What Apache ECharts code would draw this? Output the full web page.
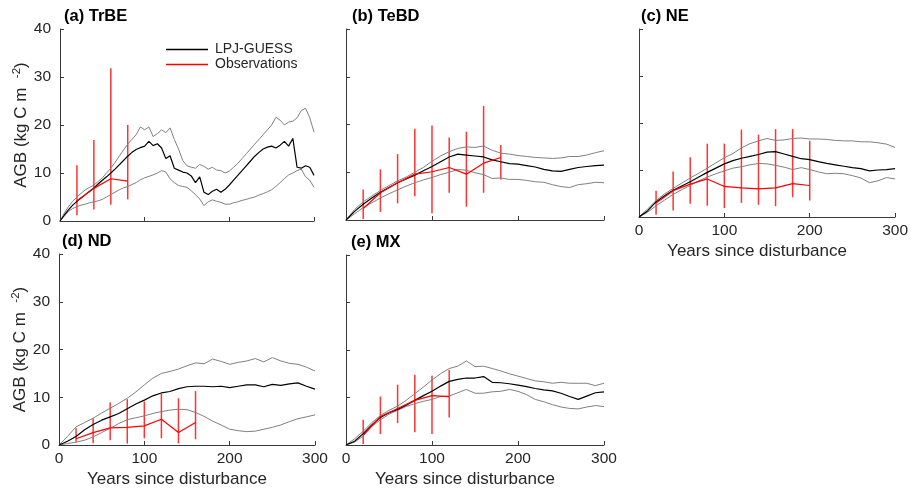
<!DOCTYPE html>
<html>
<head>
<meta charset="utf-8">
<script src="https://cdn.jsdelivr.net/npm/echarts@6/dist/echarts.min.js"></script>
<style>
  html, body { margin: 0; padding: 0; background: #fff; }
  #main { width: 911px; height: 490px; }
</style>
</head>
<body>
<div id="main"></div>
<script>
// x values
var years5 = [0,5,10,15,20,25,30,35,40,45,50,55,60,65,70,75,80,85,90,95,100,105,110,115,120,125,130,135,140,145,150,
  155,160,165,170,175,180,185,190,195,200,205,210,215,220,225,230,235,240,245,250,255,260,265,270,275,280,285,290,295,300];
var years10 = [0,10,20,30,40,50,60,70,80,90,100,110,120,130,140,150,160,170,180,190,200,210,220,230,240,250,260,270,280,290,300];

// (a) TrBE
var aMean = [0,1.2,2.3,3.3,4.1,4.8,5.5,6.2,6.9,7.7,8.5,9.2,10.0,10.8,11.7,12.6,13.5,14.3,14.9,15.3,15.6,16.6,15.7,16.1,15.2,13.0,13.6,11.0,10.6,10.2,10.0,
  9.4,8.0,9.2,6.0,5.5,6.2,6.6,6.0,6.6,7.5,8.5,9.5,10.5,11.5,12.5,13.5,14.3,15.0,15.4,15.6,15.2,15.8,16.6,15.6,17.2,11.2,11.0,11.5,11.2,9.5];
var aHigh = [0,1.6,3.0,4.1,5.0,5.8,6.5,7.0,7.5,8.2,9.0,10.0,11.0,12.2,13.5,14.8,16.0,17.0,18.0,19.6,19.0,19.6,17.6,18.2,19.0,18.4,19.4,17.0,15.0,12.6,11.5,
  11.2,11.0,11.8,11.4,10.8,11.2,10.6,10.5,10.0,10.4,11.2,12.0,13.0,14.0,15.0,16.0,17.0,18.0,19.0,20.0,21.6,21.0,20.0,20.6,20.8,21.5,23.0,23.5,21.5,18.5];
var aLow = [0,1.0,2.0,2.6,3.0,3.3,3.5,3.8,4.0,4.2,4.5,5.0,5.5,6.0,6.5,6.9,7.2,7.6,8.0,8.6,9.0,9.3,9.6,10.0,10.5,10.2,8.8,8.0,7.4,7.2,7.0,
  6.3,5.5,4.6,3.2,4.0,4.4,4.1,3.9,3.5,3.5,3.8,4.0,4.3,4.5,4.8,5.0,5.4,5.7,6.1,6.5,7.2,8.0,8.8,9.6,10.0,10.5,10.8,9.2,8.5,7.0];
var aObsX = [20,40,60,80];
var aObs = [4.2,6.8,8.8,8.3];
var aObsLo = [1.2,2.4,3.4,4.5];
var aObsHi = [11.6,16.9,31.8,20.0];

// (b) TeBD
var bMean = [0,1.8,3.3,4.6,5.8,6.8,7.8,8.6,9.4,10.3,11.2,12.2,13.2,13.8,13.6,13.4,13.2,12.6,12.2,11.8,11.7,11.4,11.1,10.6,10.3,10.2,10.6,11.0,11.2,11.4,11.5];
var bHigh = [0,2.2,3.8,5.0,6.2,7.2,8.2,9.0,10.0,11.0,12.3,13.4,14.3,15.0,15.3,15.2,15.5,14.6,14.0,13.8,13.5,13.3,13.1,13.0,12.9,13.0,13.3,13.3,13.6,14.1,14.5];
var bLow = [0,1.3,2.6,3.6,4.6,5.5,6.3,7.1,7.8,8.4,8.9,9.5,10.0,10.6,10.4,9.9,9.5,8.7,8.8,8.5,8.5,8.3,8.0,7.9,7.4,7.0,6.8,7.4,7.6,7.9,7.8];
var bObsX = [20,40,60,80,100,120,140,160,180];
var bObs = [2.4,5.7,7.8,9.6,10.1,11.0,9.6,11.9,13.1];
var bObsLo = [0.2,1.7,3.5,5.0,1.4,5.7,2.8,5.7,8.5];
var bObsHi = [6.4,10.6,13.8,19.1,19.8,17.3,18.5,23.9,15.7];

// (c) NE
var cMean = [0,1.3,3.2,4.5,5.7,6.6,7.5,8.5,9.5,10.4,11.3,12.0,12.5,12.9,13.3,13.8,13.9,13.4,12.9,12.4,12.2,11.8,11.4,11.1,10.8,10.5,10.3,9.8,10.0,10.1,10.3];
var cHigh = [0,1.7,3.5,4.9,6.1,7.2,8.3,9.3,10.4,11.5,12.6,13.5,14.7,15.6,16.2,16.7,16.3,16.4,16.7,16.8,16.6,16.6,16.5,16.3,16.2,16.2,16.0,16.0,15.8,15.5,14.8];
var cLow = [0,1.0,2.4,3.6,4.8,5.8,6.7,7.7,8.5,9.2,9.8,10.4,10.7,11.1,11.4,11.3,11.0,10.6,10.1,10.5,10.1,9.6,9.2,9.3,9.2,8.8,8.3,7.3,7.7,8.4,8.1];
var cObsX = [20,40,60,80,100,120,140,160,180,200];
var cObs = [3.0,5.6,7.0,8.1,6.5,6.2,6.0,6.2,7.1,6.7];
var cObsLo = [0.5,1.4,2.8,2.4,1.9,3.0,2.6,2.3,4.2,3.5];
var cObsHi = [5.6,9.7,12.7,15.6,15.6,18.6,17.5,18.7,18.7,16.2];

// (d) ND
var dMean = [0,0.8,1.8,3.2,4.3,5.2,5.9,6.6,7.6,8.6,9.4,10.3,10.9,11.2,11.8,12.2,12.3,12.3,12.2,12.3,12.0,12.3,12.6,12.6,12.2,12.7,12.5,12.8,13.0,12.3,11.7];
var dHigh = [0,1.8,3.8,4.7,5.6,6.7,7.7,8.7,9.8,11.1,12.6,14.0,15.0,15.4,15.9,16.6,17.2,17.0,18.0,17.5,16.9,17.3,17.6,18.1,17.4,18.3,17.6,17.1,16.9,16.3,15.5];
var dLow = [0,0.3,0.6,1.0,1.7,2.6,3.5,4.5,5.3,5.7,6.1,6.6,7.0,7.3,7.5,7.4,6.8,6.0,5.0,4.2,3.3,3.0,2.8,2.9,3.3,3.7,4.2,4.9,5.5,5.9,6.3];
var dObsX = [20,40,60,80,100,120,140,160];
var dObs = [1.3,2.6,3.6,3.7,4.0,5.4,2.6,4.7];
var dObsLo = [0.7,0.35,1.0,0.3,1.4,1.4,0.35,1.2];
var dObsHi = [3.5,5.6,8.9,9.6,9.1,10.7,9.8,11.3];

// (e) MX
var eMean = [0,0.8,2.4,4.2,5.8,6.8,7.5,8.4,9.4,10.4,11.3,12.4,13.4,13.8,14.1,14.1,14.4,13.2,13.1,12.9,12.6,12.3,11.9,11.6,11.4,10.9,10.2,9.6,10.3,11.0,11.2];
var eHigh = [0,1.3,2.9,4.7,6.2,7.3,8.2,9.4,10.8,12.2,13.7,15.0,16.1,16.6,17.7,16.5,16.6,16.1,15.6,15.0,14.5,14.0,13.5,13.3,13.0,13.2,13.0,13.0,13.0,12.5,13.0];
var eLow = [0,0.6,1.9,3.9,5.3,6.5,7.3,8.1,8.7,9.2,9.6,10.2,10.3,11.0,11.7,10.9,10.9,11.2,11.3,11.7,11.3,10.6,9.6,9.1,8.5,8.0,7.7,7.6,8.0,8.3,8.1];
var eObsX = [20,40,60,80,100,120];
var eObs = [2.1,6.0,7.7,9.4,10.4,10.2];
var eObsLo = [0.2,2.3,4.6,2.7,2.3,5.8];
var eObsHi = [5.3,10.2,12.7,14.8,14.6,15.8];

var titles = ['(a) TrBE', '(b) TeBD', '(c) NE', '(d) ND', '(e) MX'];
var panels = [
  {x: years5, mean: aMean, high: aHigh, low: aLow, ox: aObsX, o: aObs, lo: aObsLo, hi: aObsHi},
  {x: years10, mean: bMean, high: bHigh, low: bLow, ox: bObsX, o: bObs, lo: bObsLo, hi: bObsHi},
  {x: years10, mean: cMean, high: cHigh, low: cLow, ox: cObsX, o: cObs, lo: cObsLo, hi: cObsHi},
  {x: years10, mean: dMean, high: dHigh, low: dLow, ox: dObsX, o: dObs, lo: dObsLo, hi: dObsHi},
  {x: years10, mean: eMean, high: eHigh, low: eLow, ox: eObsX, o: eObs, lo: eObsLo, hi: eObsHi}
];

// layout of the five axes boxes
var boxes = [
  {left: 60, top: 29, width: 254, height: 192},
  {left: 346, top: 29, width: 258, height: 191},
  {left: 639, top: 29, width: 261, height: 188},
  {left: 59, top: 254, width: 256, height: 191},
  {left: 346, top: 255, width: 258, height: 190}
];
var titlePos = [[64, 8], [352, 8], [641, 8], [62, 233], [351, 234]];
var showXLabels = [false, false, true, true, true];
var showYLabels = [true, false, false, true, false];

var axisColor = '#3a3a3a';
var textColor = '#262626';
var font = 'Liberation Sans, Arial, Helvetica, sans-serif';

function pairs(xs, ys) {
  return xs.map(function (x, i) { return [x, ys[i]]; });
}

var option = {
  animation: false,
  backgroundColor: '#fff',
  title: [],
  legend: [
    {data: ['LPJ-GUESS'], left: 166, top: 42.5, padding: 0, icon: 'rect', itemWidth: 42, itemHeight: 1.5, itemGap: 0,
     textStyle: {fontSize: 14, color: textColor, fontFamily: font, padding: [0, 0, 0, 2]}},
    {data: ['Observations'], left: 166, top: 57.5, padding: 0, icon: 'rect', itemWidth: 42, itemHeight: 1.5, itemGap: 0,
     textStyle: {fontSize: 14, color: textColor, fontFamily: font, padding: [0, 0, 0, 2]}}
  ],
  grid: [],
  xAxis: [],
  yAxis: [],
  series: []
};

panels.forEach(function (p, i) {
  option.title.push({
    text: titles[i], left: titlePos[i][0], top: titlePos[i][1], padding: 0,
    textStyle: {fontSize: 16.5, fontWeight: 'bold', color: '#000', fontFamily: font}
  });
  option.grid.push(boxes[i]);
  option.xAxis.push({
    type: 'value', gridIndex: i, min: 0, max: 300, interval: 100,
    axisLine: {show: true, lineStyle: {color: axisColor, width: 1}},
    axisTick: {show: true, inside: true, length: 4, lineStyle: {color: axisColor}},
    splitLine: {show: false},
    axisLabel: {show: showXLabels[i], fontSize: 15.5, color: textColor, fontFamily: font, margin: 6},
    name: showXLabels[i] ? 'Years since disturbance' : '',
    nameLocation: 'middle', nameGap: 26,
    nameTextStyle: {fontSize: 17, color: textColor, fontFamily: font, padding: [0, 20, 0, 0]}
  });
  option.yAxis.push({
    type: 'value', gridIndex: i, min: 0, max: 40, interval: 10,
    axisLine: {show: true, lineStyle: {color: axisColor, width: 1}},
    axisTick: {show: true, inside: true, length: 4, lineStyle: {color: axisColor}},
    splitLine: {show: false},
    axisLabel: {show: showYLabels[i], fontSize: 15.5, color: textColor, fontFamily: font, margin: 9},
    name: showYLabels[i] ? '{a|AGB (kg C m  }{s|-2}{a|)}' : '',
    nameLocation: 'middle', nameGap: 25, nameRotate: 90,
    nameTextStyle: {
      color: textColor, fontFamily: font,
      rich: {
        a: {fontSize: 17, color: textColor, fontFamily: font},
        s: {fontSize: 11.5, color: textColor, fontFamily: font, verticalAlign: 'top', padding: [0, 0, 9, 0]}
      }
    }
  });
  var common = {type: 'line', xAxisIndex: i, yAxisIndex: i, symbol: 'none', silent: true};
  option.series.push(Object.assign({}, common, {
    name: 'range', data: pairs(p.x, p.high), lineStyle: {color: '#808080', width: 1}, itemStyle: {color: '#808080'}
  }));
  option.series.push(Object.assign({}, common, {
    name: 'range', data: pairs(p.x, p.low), lineStyle: {color: '#808080', width: 1}, itemStyle: {color: '#808080'}
  }));
  option.series.push(Object.assign({}, common, {
    name: 'LPJ-GUESS', data: pairs(p.x, p.mean), lineStyle: {color: '#000', width: 1.2}, itemStyle: {color: '#000'}
  }));
  option.series.push({
    type: 'custom', name: 'errorbar', xAxisIndex: i, yAxisIndex: i, silent: true, z: 3,
    data: p.ox.map(function (x, j) { return [x, p.lo[j], p.hi[j]]; }),
    encode: {x: 0, y: [1, 2]},
    renderItem: function (params, api) {
      var a = api.coord([api.value(0), api.value(1)]);
      var b = api.coord([api.value(0), api.value(2)]);
      return {type: 'line', shape: {x1: a[0], y1: a[1], x2: b[0], y2: b[1]},
        style: {stroke: 'rgba(255,0,0,0.8)', lineWidth: 1.5}};
    }
  });
  option.series.push(Object.assign({}, common, {
    name: 'Observations', z: 4, data: pairs(p.ox, p.o), lineStyle: {color: '#ff0000', width: 1.2}, itemStyle: {color: '#ff0000'}
  }));
});

var chart = echarts.init(document.getElementById('main'));
chart.setOption(option);
</script>
</body>
</html>
